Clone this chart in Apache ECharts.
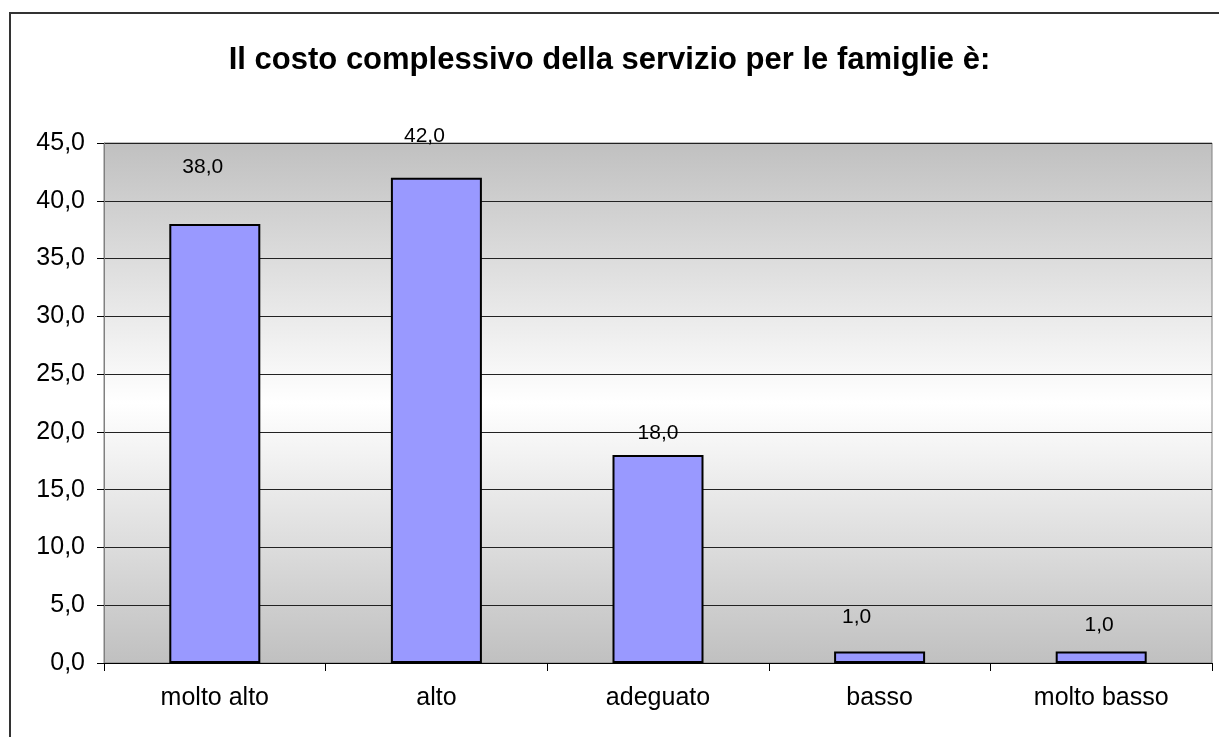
<!DOCTYPE html>
<html>
<head>
<meta charset="utf-8">
<script src="https://cdn.jsdelivr.net/npm/echarts@6/dist/echarts.min.js"></script>
<style>
html,body{margin:0;padding:0;background:#fff;}
#c{width:1219px;height:737px;}
</style>
</head>
<body>
<div id="c"></div>
<script>
var titleText = 'Il costo complessivo della servizio per le famiglie è:';
var categories = ['molto alto', 'alto', 'adeguato', 'basso', 'molto basso'];
var values = [38.0, 42.0, 18.0, 1.0, 1.0];
var yTicks = {min: 0, max: 45, interval: 5};
// label placement tweaks (style only)
var labelOffsets = [[-12, -46], [-12, -31], [0, -11], [-23, -24], [-2, -16]];

function fmt(v) { return v.toFixed(1).replace('.', ','); }

var chart = echarts.init(document.getElementById('c'), null, {renderer: 'canvas'});
var font = 'Liberation Sans, Arial, sans-serif';

chart.setOption({
  animation: false,
  backgroundColor: '#ffffff',
  textStyle: {fontFamily: font, color: '#000'},
  title: {
    text: titleText,
    left: 'center',
    top: 40,
    textStyle: {fontFamily: font, fontSize: 31, fontWeight: 'bold', color: '#000'}
  },
  graphic: [{
    type: 'rect',
    shape: {x: 10, y: 13, width: 1400, height: 1000},
    style: {fill: 'none', stroke: '#333', lineWidth: 2},
    silent: true,
    z: 100
  }],
  grid: {
    left: 104, right: 7, top: 143, bottom: 74,
    show: true,
    borderColor: '#808080',
    borderWidth: 1,
    backgroundColor: {
      type: 'linear', x: 0, y: 0, x2: 0, y2: 1,
      colorStops: [
        {offset: 0, color: '#c0c0c0'},
        {offset: 0.5, color: '#ffffff'},
        {offset: 1, color: '#c0c0c0'}
      ]
    }
  },
  xAxis: {
    type: 'category',
    data: categories,
    axisLine: {lineStyle: {color: '#000', width: 1}},
    axisTick: {show: true, length: 8, lineStyle: {color: '#000'}},
    axisLabel: {fontFamily: font, fontSize: 25, color: '#000', margin: 23}
  },
  yAxis: {
    type: 'value',
    min: yTicks.min, max: yTicks.max, interval: yTicks.interval,
    axisLine: {show: true, lineStyle: {color: '#808080', width: 1}},
    axisTick: {show: true, length: 7, lineStyle: {color: '#000'}},
    axisLabel: {fontFamily: font, fontSize: 25, color: '#000', margin: 19, formatter: fmt},
    splitLine: {lineStyle: {color: '#222', width: 1}}
  },
  series: [{
    type: 'bar',
    barWidth: 91,
    data: values.map(function (v, i) {
      return {value: v, label: {offset: labelOffsets[i]}};
    }),
    itemStyle: {color: '#9999ff', borderColor: '#000', borderWidth: 2},
    label: {
      show: true,
      position: 'top',
      distance: 0,
      fontFamily: font,
      fontSize: 21,
      color: '#000',
      formatter: function (p) { return fmt(p.value); }
    }
  }]
});
</script>
</body>
</html>
